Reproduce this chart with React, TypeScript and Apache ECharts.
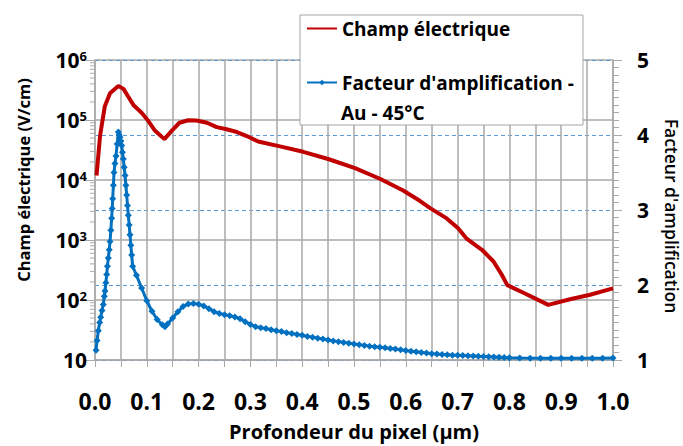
import React, { useEffect, useRef } from "react";
import * as echarts from "echarts";

const RED_NAME = "Champ électrique";
const BLUE_NAME = "Facteur d'amplification - Au - 45°C";

// Champ électrique (V/cm) vs profondeur (µm)
const fieldX = [0.003, 0.0097, 0.019, 0.029, 0.045, 0.055, 0.064, 0.075, 0.09, 0.103, 0.116, 0.134, 0.148, 0.163, 0.18, 0.196, 0.216, 0.235, 0.254, 0.274, 0.293, 0.315, 0.357, 0.402, 0.45, 0.502, 0.55, 0.595, 0.627, 0.647, 0.679, 0.701, 0.718, 0.747, 0.769, 0.785, 0.796, 0.827, 0.875, 0.917, 0.954, 1.0];
const fieldY = [1.19e4, 5.4e4, 1.7e5, 2.8e5, 3.7e5, 3.3e5, 2.46e5, 1.74e5, 1.32e5, 9.6e4, 6.6e4, 4.8e4, 6.6e4, 9.0e4, 9.9e4, 9.8e4, 9.0e4, 7.6e4, 7.0e4, 6.3e4, 5.4e4, 4.39e4, 3.63e4, 2.95e4, 2.24e4, 1.58e4, 1.05e4, 6.7e3, 4.5e3, 3.4e3, 2.29e3, 1.57e3, 1.04e3, 687, 442, 266, 177, 132, 83, 103, 121, 156];

// Facteur d'amplification vs profondeur (µm)
const gainX = [0.002, 0.004, 0.0064, 0.009, 0.011, 0.0135, 0.016, 0.018, 0.0193, 0.021, 0.0226, 0.024, 0.0257, 0.0275, 0.029, 0.0306, 0.0322, 0.0332, 0.0342, 0.0355, 0.0367, 0.0385, 0.0405, 0.0428, 0.045, 0.0467, 0.0483, 0.05, 0.0515, 0.053, 0.0547, 0.0563, 0.058, 0.0596, 0.0612, 0.0628, 0.0643, 0.066, 0.0676, 0.0692, 0.0708, 0.0727, 0.08, 0.09, 0.1, 0.11, 0.12, 0.13, 0.135, 0.14, 0.15, 0.16, 0.17, 0.18, 0.19, 0.2, 0.21, 0.22, 0.23, 0.24, 0.25, 0.26, 0.27, 0.28, 0.29, 0.3, 0.31, 0.32, 0.33, 0.34, 0.35, 0.36, 0.37, 0.38, 0.39, 0.4, 0.41, 0.42, 0.43, 0.44, 0.45, 0.46, 0.47, 0.48, 0.49, 0.5, 0.51, 0.52, 0.53, 0.54, 0.55, 0.56, 0.57, 0.58, 0.59, 0.6, 0.61, 0.62, 0.63, 0.64, 0.65, 0.66, 0.67, 0.68, 0.69, 0.7, 0.71, 0.72, 0.73, 0.74, 0.75, 0.76, 0.77, 0.78, 0.79, 0.8, 0.82, 0.84, 0.86, 0.88, 0.9, 0.92, 0.94, 0.96, 0.98, 1.0];
const gainY = [1.13, 1.26, 1.39, 1.5, 1.57, 1.66, 1.74, 1.85, 1.92, 2.03, 2.14, 2.25, 2.36, 2.47, 2.58, 2.73, 2.89, 3.02, 3.15, 3.33, 3.5, 3.62, 3.72, 3.88, 4.04, 4.0, 3.97, 3.92, 3.86, 3.77, 3.68, 3.57, 3.46, 3.33, 3.2, 3.06, 2.93, 2.8, 2.67, 2.53, 2.4, 2.25, 2.13, 1.96, 1.79, 1.65, 1.54, 1.47, 1.445, 1.48, 1.56, 1.645, 1.715, 1.748, 1.752, 1.745, 1.72, 1.685, 1.645, 1.62, 1.605, 1.59, 1.575, 1.55, 1.51, 1.475, 1.445, 1.43, 1.42, 1.405, 1.39, 1.38, 1.365, 1.355, 1.34, 1.33, 1.315, 1.305, 1.29, 1.28, 1.268, 1.255, 1.245, 1.235, 1.225, 1.215, 1.205, 1.195, 1.185, 1.178, 1.17, 1.162, 1.154, 1.146, 1.137, 1.128, 1.118, 1.11, 1.1, 1.092, 1.085, 1.08, 1.075, 1.07, 1.065, 1.062, 1.059, 1.056, 1.053, 1.05, 1.048, 1.045, 1.041, 1.037, 1.033, 1.03, 1.027, 1.025, 1.023, 1.022, 1.022, 1.023, 1.024, 1.025, 1.025, 1.026];

// log-axis minor tick values (2..9 x 10^n)
const logMinorTicks: number[] = [];
for (let e = 1; e < 6; e++) for (let m = 2; m <= 9; m++) logMinorTicks.push(m * Math.pow(10, e));

const FONT = "Open Sans";
const GRID_GRAY = "#A9A9A9";

export default function App() {
  const ref = useRef<HTMLDivElement>(null);
  useEffect(() => {
    const chart = echarts.init(ref.current!, null, { renderer: "svg" });
    chart.setOption({
      animation: false,
      backgroundColor: "#ffffff",
      textStyle: { fontFamily: FONT },
      grid: { left: 95, right: 70, top: 60, bottom: 83 },
      legend: {
        data: [{ name: RED_NAME, itemStyle: { opacity: 0 } }, { name: BLUE_NAME }],
        orient: "vertical",
        left: 300,
        top: 15,
        padding: [4, 6, 35, 6],
        itemGap: 35,
        itemWidth: 30,
        itemHeight: 7,
        z: 20,
        formatter: (n: string) => (n === BLUE_NAME ? "Facteur d'amplification -" : n),
        textStyle: { fontFamily: FONT, fontSize: 19, fontWeight: "bold", color: "#000" },
      },
      graphic: [
        { type: "rect", z: 10, shape: { x: 300, y: 15, width: 283, height: 110 }, style: { fill: "#fff", stroke: "#A6A6A6", lineWidth: 1 } },
        { type: "text", z: 30, x: 341, y: 113, style: { text: "Au - 45°C", font: `bold 19px '${FONT}'`, fill: "#000", verticalAlign: "middle" } },
        { type: "text", z: 30, x: 23, y: 180, rotation: Math.PI / 2, style: { text: "Champ électrique (V/cm)", font: `bold 16.5px '${FONT}'`, fill: "#000", align: "center", verticalAlign: "middle" } },
        { type: "text", z: 30, x: 672, y: 216, rotation: -Math.PI / 2, style: { text: "Facteur d'amplification", font: `600 17.5px '${FONT}'`, fill: "#000", align: "center", verticalAlign: "middle" } },
      ],
      xAxis: {
        type: "value",
        min: 0,
        max: 1,
        interval: 0.05,
        name: "Profondeur du pixel (µm)",
        nameLocation: "middle",
        nameGap: 61,
        nameTextStyle: { fontFamily: FONT, fontSize: 20, fontWeight: "bold", color: "#000" },
        axisLine: { lineStyle: { color: GRID_GRAY, width: 1.5 } },
        axisTick: { inside: false, length: 7, lineStyle: { color: GRID_GRAY } },
        splitLine: { show: true, lineStyle: { color: GRID_GRAY, width: 1.5 } },
        axisLabel: {
          margin: 29,
          fontFamily: FONT,
          fontSize: 23,
          fontWeight: "bold",
          color: "#000",
          formatter: (v: number) => (Math.round(v * 20) % 2 === 0 ? v.toFixed(1) : ""),
        },
      },
      yAxis: [
        {
          type: "log",
          logBase: 10,
          min: 10,
          max: 1e6,
          axisLine: { show: true, lineStyle: { color: GRID_GRAY, width: 1.5 } },
          axisTick: { show: true, length: 9, lineStyle: { color: GRID_GRAY } },
          splitLine: { show: true, lineStyle: { color: GRID_GRAY, width: 1.5 } },
          axisLabel: {
            margin: 8,
            fontFamily: FONT,
            fontSize: 21,
            fontWeight: "bold",
            color: "#000",
            formatter: (v: number) => {
              const e = Math.round(Math.log10(v));
              return e === 1 ? "10" : `10{sup|${e}}`;
            },
            rich: {
              sup: { fontFamily: FONT, fontSize: 13, fontWeight: "bold", color: "#000", verticalAlign: "top" },
            },
          },
        },
        {
          type: "value",
          min: 1,
          max: 5,
          interval: 1,
          position: "right",
          axisLine: { show: true, lineStyle: { color: GRID_GRAY, width: 1.5 } },
          axisTick: { show: true, length: 9, lineStyle: { color: GRID_GRAY } },
          minorTick: { show: true, splitNumber: 10, length: 6, lineStyle: { color: GRID_GRAY } },
          splitLine: { show: true, lineStyle: { color: "#5B9BD5", width: 1, type: [4, 3] } },
          axisLabel: { margin: 24, fontFamily: FONT, fontSize: 21, fontWeight: "bold", color: "#000" },
        },
      ],
      series: [
        {
          type: "custom",
          name: "minor",
          silent: true,
          xAxisIndex: 0,
          yAxisIndex: 0,
          clip: false,
          data: logMinorTicks.map((v) => [0, v]),
          renderItem: (_p: any, api: any) => {
            const pt = api.coord([0, api.value(1)]);
            return {
              type: "line",
              shape: { x1: pt[0] - 5, y1: pt[1], x2: pt[0], y2: pt[1] },
              style: { stroke: GRID_GRAY, lineWidth: 1 },
            };
          },
        },
        {
          type: "line",
          name: RED_NAME,
          yAxisIndex: 0,
          symbol: "none",
          data: fieldX.map((x, i) => [x, fieldY[i]]),
          lineStyle: { color: "#C00000", width: 4 },
          itemStyle: { color: "#C00000" },
          z: 3,
        },
        {
          type: "line",
          name: BLUE_NAME,
          yAxisIndex: 1,
          symbol: "diamond",
          symbolSize: 7,
          showAllSymbol: true,
          data: gainX.map((x, i) => [x, gainY[i]]),
          lineStyle: { color: "#0070C0", width: 3 },
          itemStyle: { color: "#0070C0" },
          z: 4,
        },
      ],
    });
    return () => chart.dispose();
  }, []);
  return <div ref={ref} style={{ position: "fixed", left: 0, top: 0, width: 683, height: 446 }} />;
}
